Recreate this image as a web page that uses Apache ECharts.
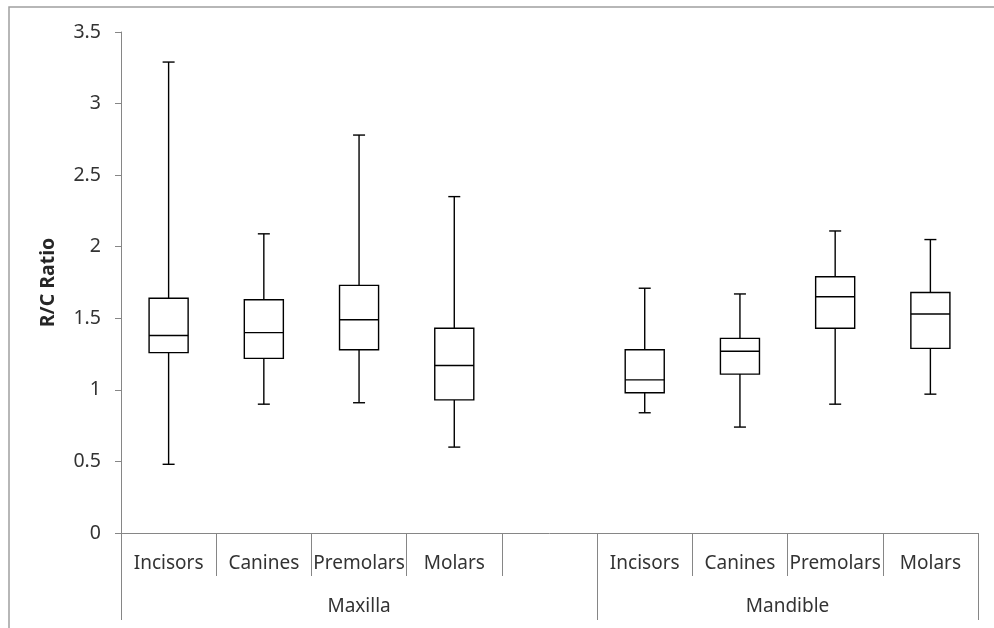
<!DOCTYPE html>
<html>
<head>
<meta charset="utf-8">
<script src="https://cdn.jsdelivr.net/npm/echarts@6/dist/echarts.min.js"></script>
<style>html,body{margin:0;padding:0;background:#fff;}#chart{width:994px;height:628px;}</style>
</head>
<body>
<div id="chart"></div>
<script>
// Category labels (blank slot separates the two groups)
const categories = ['Incisors', 'Canines', 'Premolars', 'Molars', '', 'Incisors', 'Canines', 'Premolars', 'Molars'];
const groups = ['Maxilla', 'Mandible'];
const groupSpans = [5, 4];
const yTicks = [0, 0.5, 1, 1.5, 2, 2.5, 3, 3.5];

// Box-plot statistics per category (null = empty slot)
const mins    = [0.48, 0.90, 0.91, 0.60, null, 0.84, 0.74, 0.90, 0.97];
const q1s     = [1.26, 1.22, 1.28, 0.93, null, 0.98, 1.11, 1.43, 1.29];
const medians = [1.38, 1.40, 1.49, 1.17, null, 1.07, 1.27, 1.65, 1.53];
const q3s     = [1.64, 1.63, 1.73, 1.43, null, 1.28, 1.36, 1.79, 1.68];
const maxs    = [3.29, 2.09, 2.78, 2.35, null, 1.71, 1.67, 2.11, 2.05];

const data = [];
categories.forEach((c, i) => {
  if (mins[i] == null) return;
  data.push([i, mins[i], q1s[i], medians[i], q3s[i], maxs[i]]);
});

// group boundaries and centres on the 0..N value scale
const bounds = [0];
groupSpans.forEach(s => bounds.push(bounds[bounds.length - 1] + s));
const centres = groupSpans.map((s, i) => bounds[i] + s / 2);

const textColor = '#333333';
const axisColor = '#868686';
const font = 'Noto Sans';

const chart = echarts.init(document.getElementById('chart'));
chart.setOption({
  animation: false,
  backgroundColor: '#fff',
  graphic: [{
    type: 'rect', silent: true, z: -1,
    shape: { x: 9, y: 7, width: 1000, height: 700 },
    style: { fill: 'none', stroke: '#a0a0a0', lineWidth: 1.5 }
  }],
  grid: { left: 121, right: 16, top: 32, bottom: 95, containLabel: false },
  xAxis: [{
    type: 'category',
    data: categories,
    position: 'bottom',
    boundaryGap: true,
    axisLine: { show: true, lineStyle: { color: axisColor, width: 1 } },
    axisTick: { show: true, interval: 0, length: 43, lineStyle: { color: axisColor } },
    axisLabel: { interval: 0, margin: 21, fontSize: 19, lineHeight: 20, color: textColor, fontFamily: font },
    splitLine: { show: false }
  }, {
    type: 'value',
    min: 0, max: categories.length,
    position: 'bottom',
    axisLine: { show: false },
    axisTick: { show: true, length: 87, customValues: bounds, lineStyle: { color: axisColor } },
    axisLabel: {
      show: true, margin: 64, fontSize: 19, lineHeight: 20, color: textColor, fontFamily: font,
      customValues: centres,
      formatter: v => { const k = centres.indexOf(v); return k >= 0 ? groups[k] : ''; }
    },
    splitLine: { show: false }
  }],
  yAxis: {
    type: 'value',
    min: 0, max: 3.5, interval: 0.5,
    name: 'R/C Ratio',
    nameLocation: 'middle',
    nameRotate: 90,
    nameGap: 63,
    nameTextStyle: { fontSize: 19.5, fontWeight: 'bold', color: '#262626', fontFamily: font },
    axisLine: { show: true, lineStyle: { color: axisColor, width: 1 } },
    axisTick: { show: true, length: 6, lineStyle: { color: axisColor } },
    axisLabel: { margin: 20, fontSize: 19.5, color: textColor, fontFamily: font,
      formatter: v => String(v) },
    splitLine: { show: false }
  },
  series: [{
    type: 'custom',
    xAxisIndex: 0,
    yAxisIndex: 0,
    encode: { x: 0, y: [1, 2, 3, 4, 5] },
    data: data,
    renderItem: function (params, api) {
      const x = api.value(0);
      const pMin = api.coord([x, api.value(1)]);
      const pQ1 = api.coord([x, api.value(2)]);
      const pMed = api.coord([x, api.value(3)]);
      const pQ3 = api.coord([x, api.value(4)]);
      const pMax = api.coord([x, api.value(5)]);
      const band = api.size([1, 0])[0];
      const bw = band * 0.41;
      const cw = 12;
      const cx = pMed[0];
      const st = { stroke: '#000', lineWidth: 1.4, fill: 'none' };
      return {
        type: 'group',
        children: [
          { type: 'line', shape: { x1: cx, y1: pQ3[1], x2: cx, y2: pMax[1] }, style: st },
          { type: 'line', shape: { x1: cx, y1: pMin[1], x2: cx, y2: pQ1[1] }, style: st },
          { type: 'line', shape: { x1: cx - cw / 2, y1: pMax[1], x2: cx + cw / 2, y2: pMax[1] }, style: st },
          { type: 'line', shape: { x1: cx - cw / 2, y1: pMin[1], x2: cx + cw / 2, y2: pMin[1] }, style: st },
          { type: 'rect', shape: { x: cx - bw / 2, y: pQ3[1], width: bw, height: pQ1[1] - pQ3[1] },
            style: { stroke: '#000', lineWidth: 1.4, fill: '#fff' } },
          { type: 'line', shape: { x1: cx - bw / 2, y1: pMed[1], x2: cx + bw / 2, y2: pMed[1] }, style: st }
        ]
      };
    }
  }]
});
</script>
</body>
</html>
